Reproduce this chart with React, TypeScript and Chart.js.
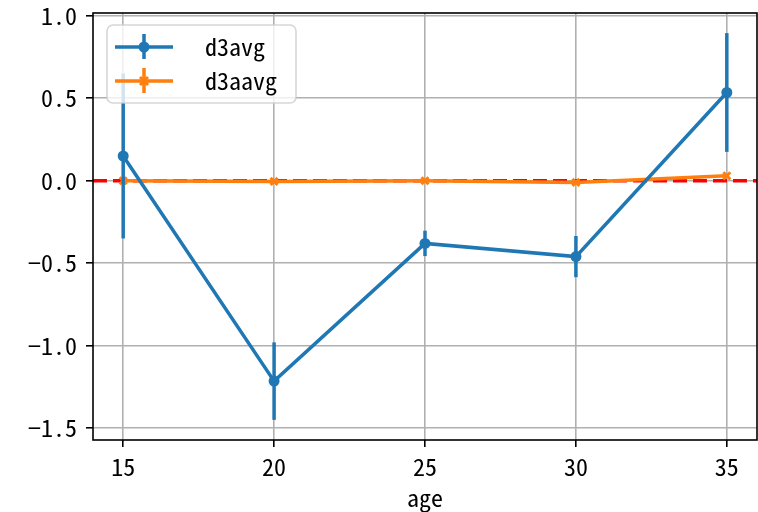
import React, { useEffect, useRef } from "react";
import { Chart, registerables } from "chart.js";

Chart.register(...registerables);

const ages = [15, 20, 25, 30, 35];
const d3avg = [0.15, -1.215, -0.38, -0.46, 0.535];
const d3avgErr = [0.5, 0.235, 0.077, 0.125, 0.36];
const d3aavg = [0.0, -0.004, 0.0, -0.01, 0.03];
const d3aavgErr = [0.008, 0.008, 0.008, 0.008, 0.008];
const seriesNames = ["d3avg", "d3aavg"];
const xTicks = [15, 20, 25, 30, 35];
const yTicks = [-1.5, -1.0, -0.5, 0.0, 0.5, 1.0];
const yTickLabels = ["\u22121.5", "\u22121.0", "\u22120.5", "0.0", "0.5", "1.0"];
const xTitle = "age";

const BLUE = "#1f77b4";
const ORANGE = "#ff7f0e";
const FONT = "'Noto Sans Mono CJK JP', 'Noto Sans CJK JP', 'DejaVu Sans Mono', monospace";
const FS = 24;

const errs: Record<number, number[]> = { 0: d3avgErr, 1: d3aavgErr };

export default function App() {
  const ref = useRef<HTMLCanvasElement | null>(null);
  useEffect(() => {
    if (!ref.current) return;
    const errorBars = {
      id: "errorBars",
      beforeDatasetDraw(chart: any, args: any) {
        const i = args.index;
        const e = errs[i];
        if (!e) return;
        const ds = chart.data.datasets[i];
        const xs = chart.scales.x;
        const ys = chart.scales.y;
        const ctx = chart.ctx;
        ctx.save();
        ctx.strokeStyle = ds.borderColor;
        ctx.lineWidth = 3.5;
        ds.data.forEach((p: any, k: number) => {
          const px = xs.getPixelForValue(p.x);
          ctx.beginPath();
          ctx.moveTo(px, ys.getPixelForValue(p.y + e[k]));
          ctx.lineTo(px, ys.getPixelForValue(p.y - e[k]));
          ctx.stroke();
        });
        ctx.restore();
      },
    };
    const frame = {
      id: "frame",
      afterDraw(chart: any) {
        const ctx = chart.ctx;
        const a = chart.chartArea;
        ctx.save();
        ctx.strokeStyle = "#000";
        ctx.lineWidth = 1.6;
        ctx.strokeRect(a.left, a.top, a.right - a.left, a.bottom - a.top);
        // legend
        const lx = 107, ly = 25, lw = 189, lh = 78;
        ctx.beginPath();
        ctx.roundRect(lx, ly, lw, lh, 6);
        ctx.fillStyle = "rgba(255,255,255,0.8)";
        ctx.fill();
        ctx.strokeStyle = "rgba(204,204,204,0.8)";
        ctx.lineWidth = 1.6;
        ctx.stroke();
        const colors = [BLUE, ORANGE];
        const rows = [47, 81];
        rows.forEach((y, i) => {
          ctx.strokeStyle = colors[i];
          ctx.fillStyle = colors[i];
          ctx.lineWidth = 3.5;
          ctx.beginPath();
          ctx.moveTo(115, y);
          ctx.lineTo(173, y);
          ctx.moveTo(144, y - 13);
          ctx.lineTo(144, y + 12);
          ctx.stroke();
          if (i === 0) {
            ctx.beginPath();
            ctx.arc(144, y, 5.5, 0, Math.PI * 2);
            ctx.fill();
          } else {
            ctx.lineWidth = 3;
            ctx.beginPath();
            ctx.moveTo(140, y - 4);
            ctx.lineTo(148, y + 4);
            ctx.moveTo(148, y - 4);
            ctx.lineTo(140, y + 4);
            ctx.stroke();
          }
          ctx.fillStyle = "#000";
          ctx.font = `${FS}px ${FONT}`;
          ctx.textBaseline = "middle";
          ctx.textAlign = "left";
          ctx.fillText(seriesNames[i], 205, y);
        });
        ctx.restore();
      },
    };
    const chart = new Chart(ref.current, {
      type: "line",
      data: {
        datasets: [
          {
            label: seriesNames[0],
            data: ages.map((x, i) => ({ x, y: d3avg[i] })),
            borderColor: BLUE,
            backgroundColor: BLUE,
            borderWidth: 3.5,
            pointRadius: 5.5,
            pointStyle: "circle",
            pointBorderWidth: 0,
            order: 0,
          },
          {
            label: seriesNames[1],
            data: ages.map((x, i) => ({ x, y: d3aavg[i] })),
            borderColor: ORANGE,
            backgroundColor: ORANGE,
            borderWidth: 3.5,
            pointRadius: 5,
            pointStyle: "crossRot",
            pointBorderWidth: 3,
            order: 1,
          },
          {
            label: "zero",
            data: [
              { x: 14, y: 0 },
              { x: 36, y: 0 },
            ],
            borderColor: "#ff0000",
            borderWidth: 3.5,
            borderDash: [14, 6],
            pointRadius: 0,
            order: 2,
          },
        ],
      },
      options: {
        animation: false,
        responsive: false,
        layout: { padding: { top: 13, right: 1, left: 0, bottom: 0 } },
        plugins: { legend: { display: false }, tooltip: { enabled: false }, title: { display: false } },
        scales: {
          x: {
            type: "linear",
            min: 14,
            max: 36,
            afterBuildTicks: (s: any) => {
              s.ticks = xTicks.map((v) => ({ value: v }));
            },
            afterFit: (s: any) => {
              s.height = 72;
              s.paddingLeft = 0;
              s.paddingRight = 0;
              s.paddingTop = 0;
              s.paddingBottom = 0;
            },
            border: { display: false },
            grid: { color: "#b0b0b0", lineWidth: 1.6, tickColor: "#000", tickLength: 7, tickWidth: 1.6 },
            ticks: {
              color: "#000",
              font: { family: FONT, size: FS },
              padding: 5,
              maxRotation: 0,
              callback: (v: any) => String(v),
            },
            title: {
              display: true,
              text: xTitle,
              color: "#000",
              font: { family: FONT, size: FS },
              padding: { top: 3, bottom: 0 },
            },
          },
          y: {
            type: "linear",
            min: -1.572,
            max: 1.017,
            afterBuildTicks: (s: any) => {
              s.ticks = yTicks.map((v) => ({ value: v }));
            },
            afterFit: (s: any) => {
              s.width = 93;
              s.paddingLeft = 0;
              s.paddingRight = 0;
              s.paddingTop = 0;
              s.paddingBottom = 0;
            },
            border: { display: false },
            grid: { color: "#b0b0b0", lineWidth: 1.6, tickColor: "#000", tickLength: 7, tickWidth: 1.6 },
            ticks: {
              color: "#000",
              font: { family: FONT, size: FS },
              padding: 9,
              callback: (v: any) => {
                const i = yTicks.findIndex((t) => Math.abs(t - v) < 1e-9);
                return i >= 0 ? yTickLabels[i] : "";
              },
            },
          },
        },
      },
      plugins: [errorBars, frame],
    } as any);
    return () => chart.destroy();
  }, []);
  return (
    <div style={{ position: "fixed", left: 0, top: 0, width: 758, height: 512, overflow: "hidden", background: "#fff" }}>
      <canvas ref={ref} width={765} height={512} style={{ display: "block" }} />
    </div>
  );
}
